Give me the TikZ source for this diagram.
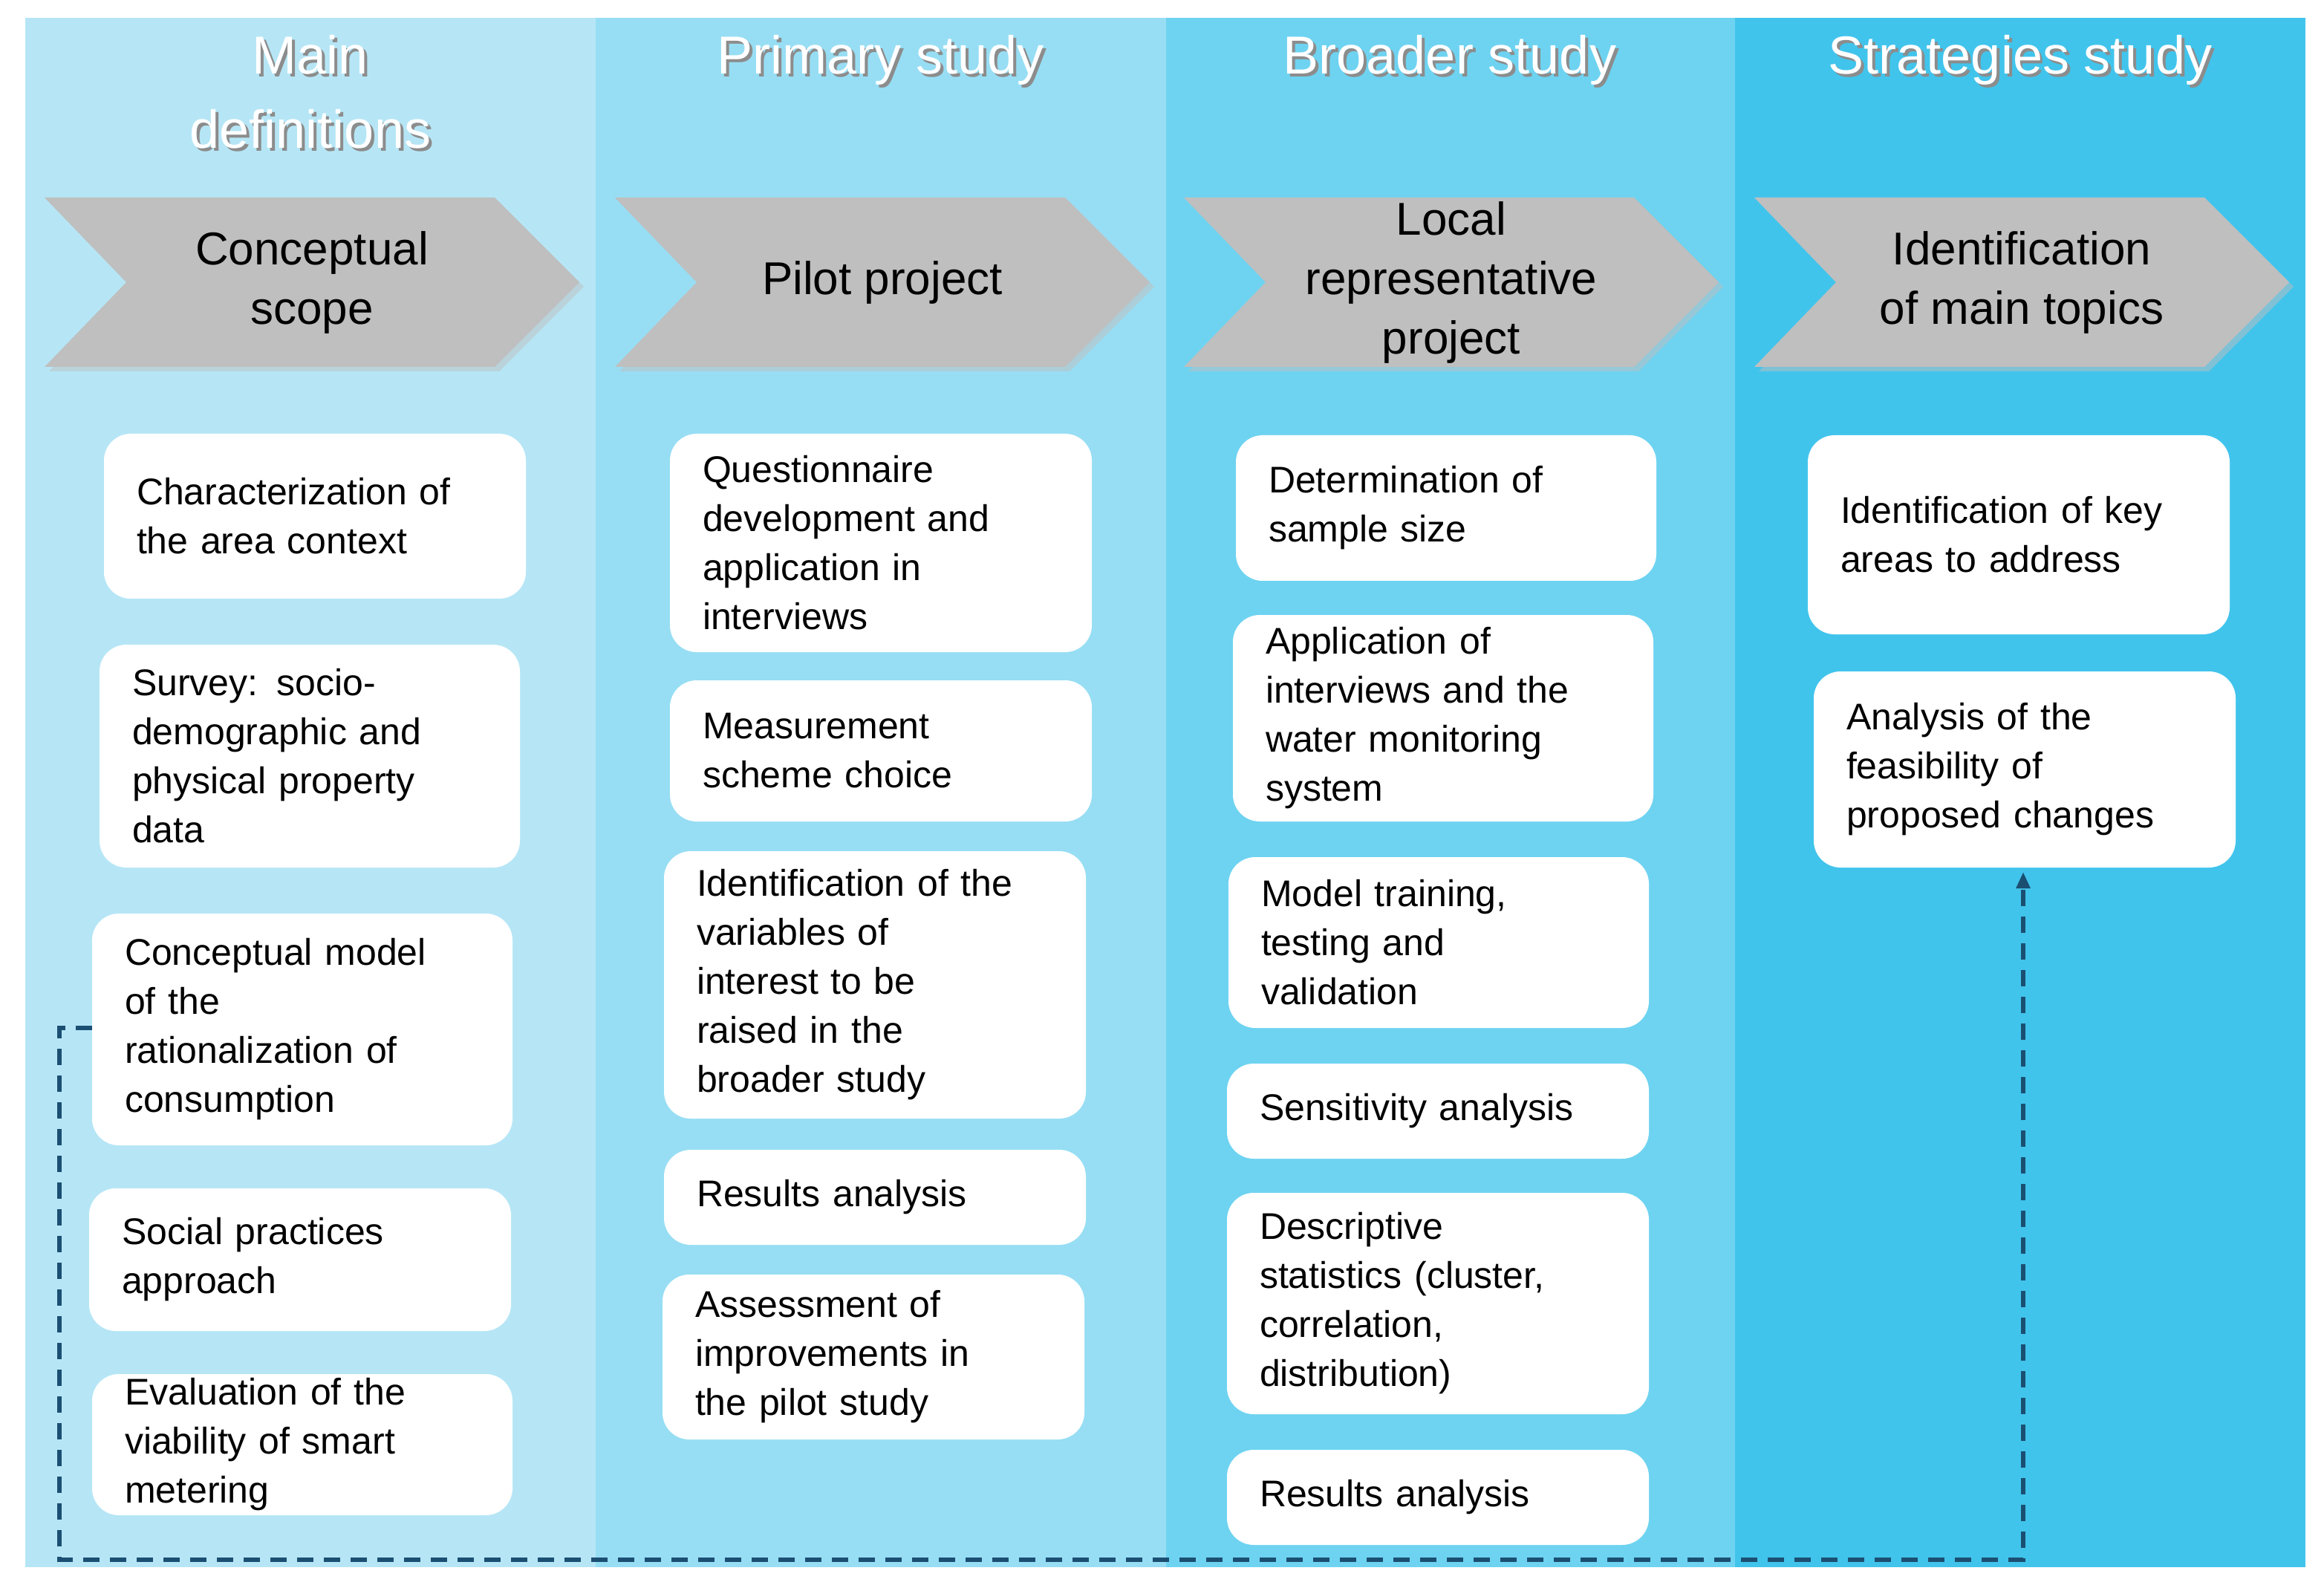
\documentclass[tikz,border=0pt]{standalone}
\usepackage{fontspec}
\setmainfont{Liberation Sans}
\usetikzlibrary{arrows.meta}
\definecolor{c1}{HTML}{B6E6F6}
\definecolor{c2}{HTML}{97DEF4}
\definecolor{c3}{HTML}{6ED3F1}
\definecolor{c4}{HTML}{41C4EC}
\definecolor{chev}{HTML}{BFBFBF}
\definecolor{dashc}{HTML}{1B4F72}
\begin{document}
\begin{tikzpicture}[x=1pt,y=-1pt,
  box/.style={fill=white,rounded corners=18pt,draw=none},
  btxt/.style={align=left,font=\fontsize{25}{33}\selectfont,inner sep=0pt},
  htxt/.style={align=center,text=white,font=\fontsize{36}{50}\selectfont},
  hsh/.style={align=center,text=black!45,font=\fontsize{36}{50}\selectfont},
  ctxt/.style={align=center,font=\fontsize{31}{40}\selectfont}]
\useasboundingbox (0,0) rectangle (1564.5,1067);
\fill[white] (0,0) rectangle (1564.5,1067);
\fill[c1] (17,12) rectangle (401,1055);
\fill[c2] (401,12) rectangle (785,1055);
\fill[c3] (785,12) rectangle (1168,1055);
\fill[c4] (1168,12) rectangle (1552,1055);
% headers
\foreach \x/\t [count=\i] in {209/{Main\\definitions},593/{Primary study},976/{Broader study},1360/{Strategies study}}{
  \node[hsh,anchor=north] at (\x+2,22) {\t};
  \node[htxt,anchor=north] (h\i) at (\x,20) {\t};
}
% chevrons
\foreach \x [count=\i] in {30,414,797,1181}{
  \fill[black!25,opacity=0.5] (\x+3,136) -- (\x+306,136) -- (\x+363,193) -- (\x+306,250) -- (\x+3,250) -- (\x+58,193) -- cycle;
  \fill[chev] (\x,133) -- (\x+303,133) -- (\x+360,190) -- (\x+303,247) -- (\x,247) -- (\x+55,190) -- cycle;
  \coordinate (ch\i) at (\x+180,190);
}
\node[ctxt] at (ch1) {Conceptual\\scope};
\node[ctxt] at (ch2) {Pilot project};
\node[ctxt] at (ch3) {Local\\representative\\project};
\node[ctxt] at (ch4) {Identification\\of main topics};
% boxes
\foreach \n/\a/\b/\c/\d/\t in {
 a1/70/292/354/403/{Characterization of\\the area context},
 a2/67/434/350/584/{Survey:  socio-\\demographic and\\physical property\\data},
 a3/62/615/345/771/{Conceptual model\\of the\\rationalization  of\\consumption},
 a4/60/800/344/896/{Social practices\\approach},
 a5/62/925/345/1020/{Evaluation  of the\\viability  of smart\\metering},
 b1/451/292/735/439/{Questionnaire\\development  and\\application in\\interviews},
 b2/451/458/735/553/{Measurement\\scheme choice},
 b3/447/573/731/753/{Identification  of the\\variables of\\interest to be\\raised in the\\broader study},
 b4/447/774/731/838/{Results  analysis},
 b5/446/858/730/969/{Assessment of\\improvements  in\\the pilot study},
 c1/832/293/1115/391/{Determination  of\\sample size},
 c2/830/414/1113/553/{Application of\\interviews and the\\water monitoring\\system},
 c3/827/577/1110/692/{Model training,\\testing and\\validation},
 c4/826/716/1110/780/{Sensitivity analysis},
 c5/826/803/1110/952/{Descriptive\\statistics (cluster,\\correlation,\\distribution)},
 c6/826/976/1110/1040/{Results  analysis},
 d1/1217/293/1501/427/{Identification  of key\\areas to address},
 d2/1221/452/1505/584/{Analysis of the\\feasibility of\\proposed changes}}{
  \fill[box] (\a,\b) rectangle (\c,\d);
  \coordinate (\n) at ({(\a+\c)/2},{(\b+\d)/2});
  \node[btxt,text width={\c-\a-44}] at (\n) {\t};
}
\coordinate (s0) at (62,692);
\coordinate (s1) at (40,692);
\coordinate (s2) at (40,1050);
\coordinate (s3) at (1362,1050);
\coordinate (s4) at (1362,587);
\draw[dashc,line width=3.2pt,dash pattern=on 11pt off 7pt,-{Triangle[length=11pt,width=9pt]}] (s0) -- (s1) -- (s2) -- (s3) -- (s4);
\end{tikzpicture}
\end{document}
